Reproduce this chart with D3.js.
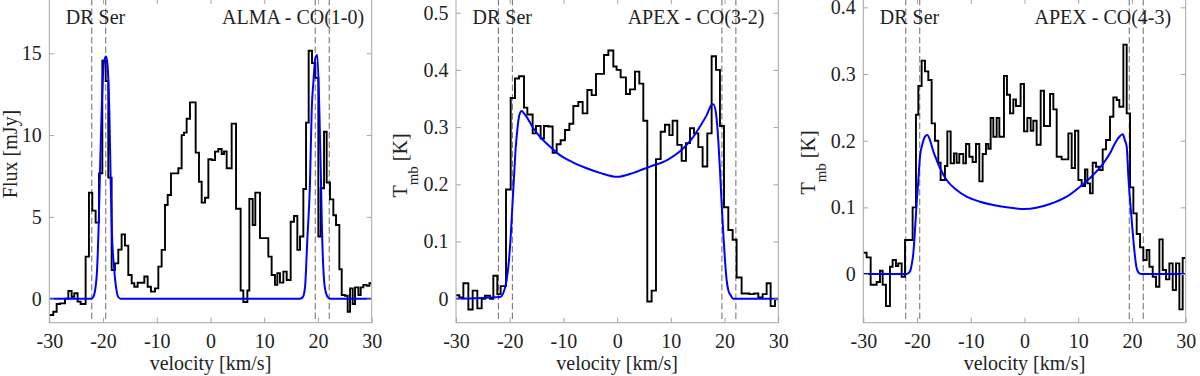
<!DOCTYPE html>
<html>
<head>
<meta charset="utf-8">
<script src="https://cdn.jsdelivr.net/npm/d3@7"></script>
<style>
  body { margin: 0; background: #fff; }
  svg { display: block; }
  text { font-family: "Liberation Serif", "Times New Roman", serif; fill: #222; white-space: pre; }
</style>
</head>
<body>
<script>
const width = 1200;
const height = 376;
const frameColor = '#a6a6a6';

// ---- shared ----
const xTicks = [-30, -20, -10, 0, 10, 20, 30];
const dashVel = [-22.1, -19.5, 19.5, 22.1];

// ---- ALMA CO(1-0) : channel left edges (last = right edge of final channel) ----
const almaVel = [-30.0, -29.26, -28.63, -28.01, -27.08, -26.46, -25.84, -25.35, -24.73, -24.17,
  -23.24, -22.62, -22.0, -21.38, -20.76, -20.13, -19.51, -19.02, -18.40, -17.78,
  -17.16, -16.54, -15.92, -15.30, -14.67, -14.18, -13.56, -12.94, -12.32, -11.70,
  -11.08, -10.33, -9.71, -9.09, -8.47, -7.97, -7.35, -5.99, -5.37, -4.93,
  -4.44, -3.82, -2.76, -2.14, -1.64, -1.02, -0.40, 0.22, 0.84, 1.46,
  2.08, 2.51, 3.01, 3.94, 4.75, 5.61, 6.11, 6.86, 7.23, 7.85,
  8.34, 9.21, 10.76, 11.38, 12.0, 12.44, 12.93, 13.56, 14.18, 14.92,
  15.54, 16.16, 16.66, 17.28, 17.78, 18.27, 18.89, 19.51, 20.07, 20.51,
  21.13, 21.62, 22.24, 22.86, 23.36, 23.98, 24.42, 25.03, 25.53, 25.97,
  26.46, 26.90, 27.52, 27.95, 28.45, 29.07, 29.57, 30.0];
const almaFlux = [-1.0, -0.8, -0.33, -0.29, 0.0, 0.47, 0.12, 0.33, -0.18, -0.33,
  2.57, 6.48, 5.38, 4.65, 7.66, 14.55, 13.3, 7.4, 1.75, 2.16,
  3.0, 3.93, 3.24, 1.45, 0.94, 0.73, 0.97, 0.97, 1.35, 0.73,
  0.43, 0.63, 1.96, 2.98, 5.73, 6.34, 7.66, 7.97, 10.0, 10.15,
  11.0, 12.0, 8.93, 7.15, 5.87, 6.17, 8.52, 8.48, 8.99, 9.15,
  8.84, 9.0, 7.97, 10.7, 5.5, 0.5, -0.2, 0.5, 6.1, 4.5,
  6.48, 3.7, 2.57, 1.45, 0.84, 1.55, 0.98, 1.65, 1.14, 4.7,
  5.05, 2.98, 3.8, 6.7, 10.76, 15.16, 14.4, 13.5, 3.8, 6.75,
  10.2, 7.1, 6.07, 5.1, 4.5, 1.8, 0.22, 0.18, -0.8, 0.63,
  -0.33, 0.69, 0.22, 0.69, 0.84, 0.78, 0.94];
const almaModelVel = [-30, -22.2, -21.81, -21.19, -20.82, -20.57, -20.2, -19.82, -19.45, -19.2,
  -18.83, -18.58, -18.34, -17.96, -17.59, -17.16, -16.72, 16.66, 17.2, 17.59,
  18.02, 18.52, 18.83, 19.14, 19.51, 19.88, 20.26, 20.51, 20.75, 21.13,
  21.5, 21.93, 22.4, 30];
const almaModelFlux = [0, 0, 0.1, 1.35, 4.4, 7.7, 12.1, 14.5, 14.8, 14.4,
  11.5, 7.25, 4.0, 1.96, 0.73, 0.1, 0, 0, 0.1, 0.7,
  3.6, 7.15, 11.5, 13.2, 14.7, 14.9, 11.5, 8.0, 4.2, 1.14,
  0.33, 0.06, 0, 0];
const almaYTicks = [0, 5, 10, 15];

// ---- APEX CO(3-2) ----
const co32Vel = [-30.0, -29.38, -28.63, -27.70, -26.90, -26.03, -25.22, -24.60, -23.67, -23.05,
  -22.31, -21.69, -20.69, -19.82, -19.02, -18.27, -17.34, -16.72, -15.73, -15.11,
  -14.24, -13.62, -12.81, -12.01, -11.26, -10.52, -9.71, -8.90, -8.16, -7.23,
  -6.42, -5.55, -4.75, -3.94, -2.45, -1.64, -0.71, -0.10, 0.65, 1.64,
  2.39, 3.32, 4.13, 4.87, 5.61, 6.42, 7.23, 8.10, 8.90, 9.71,
  10.33, 11.20, 12.01, 12.81, 13.56, 14.30, 15.11, 15.91, 16.78, 17.59,
  18.40, 19.14, 19.89, 20.69, 21.50, 22.24, 23.17, 23.79, 24.60, 25.47,
  26.28, 27.08, 27.83, 28.57, 29.38, 30.0];
const co32T = [0.006, 0.002, 0.027, -0.019, 0.014, -0.017, 0.0, 0.005, 0.0, 0.040,
  0.008, 0.022, 0.191, 0.351, 0.385, 0.389, 0.334, 0.322, 0.289, 0.302,
  0.280, 0.302, 0.301, 0.255, 0.270, 0.277, 0.295, 0.306, 0.337, 0.344,
  0.324, 0.365, 0.356, 0.393, 0.426, 0.434, 0.406, 0.400, 0.387, 0.358,
  0.366, 0.397, 0.376, 0.311, -0.005, 0.014, 0.244, 0.292, 0.304, 0.286,
  0.311, 0.269, 0.241, 0.272, 0.298, 0.289, 0.265, 0.231, 0.289, 0.424,
  0.400, 0.302, 0.160, 0.120, 0.103, 0.037, 0.009, 0.009, 0.008, 0.009,
  0.002, 0.008, 0.027, -0.013, -0.001];
const co32ModelVel = [-30, -21.81, -21.07, -20.57, -20.13, -19.82, -19.51, -19.20, -18.89, -18.52,
  -18.21, -17.78, -17.34, -16.85, -15.61, -14.36, -12.50, -10.64, -8.16, -5.68,
  -3.20, -0.03, 3.01, 6.11, 9.21, 12.32, 14.18, 15.42, 16.66, 17.59,
  17.90, 18.40, 18.83, 19.14, 19.45, 19.76, 20.07, 20.38, 20.69, 21.13,
  21.62, 30];
const co32ModelT = [0, 0.003, 0.013, 0.033, 0.068, 0.108, 0.161, 0.213, 0.263, 0.301,
  0.321, 0.328, 0.324, 0.318, 0.298, 0.283, 0.266, 0.251, 0.238, 0.228,
  0.220, 0.213, 0.220, 0.231, 0.242, 0.263, 0.283, 0.301, 0.321, 0.339,
  0.340, 0.324, 0.277, 0.225, 0.167, 0.114, 0.068, 0.033, 0.015, 0.006,
  0, 0];
const co32YTicks = [0, 0.1, 0.2, 0.3, 0.4, 0.5];

// ---- APEX CO(4-3) ----
const co43Vel = [-30.0, -29.38, -28.63, -27.52, -26.90, -26.40, -25.78, -25.04, -24.54, -23.92,
  -23.49, -22.86, -22.24, -20.82, -20.20, -19.76, -19.14, -18.52, -17.90, -17.28,
  -16.66, -16.04, -15.61, -14.80, -14.36, -13.74, -13.12, -12.63, -12.13, -11.39,
  -10.89, -10.27, -9.65, -9.03, -8.41, -7.79, -7.17, -6.73, -6.30, -5.80,
  -5.18, -4.68, -3.82, -3.26, -2.70, -2.08, -1.59, -0.72, -0.09, 0.53,
  1.15, 1.64, 2.26, 3.01, 3.63, 4.75, 5.37, 5.99, 6.92, 7.54,
  8.16, 8.78, 9.40, 10.02, 10.64, 11.26, 11.70, 12.19, 12.69, 13.31,
  13.93, 14.55, 15.17, 15.91, 16.54, 17.16, 17.65, 18.40, 19.02, 19.64,
  20.26, 20.88, 21.50, 22.12, 22.74, 23.24, 23.86, 24.48, 25.10, 25.72,
  26.34, 26.96, 27.58, 28.20, 28.82, 29.44, 30.0];
const co43T = [0.032, 0.025, -0.016, -0.012, 0.005, -0.016, -0.048, 0.011, 0.021, 0.012,
  0.016, -0.004, 0.051, 0.100, 0.239, 0.282, 0.320, 0.304, 0.291, 0.226,
  0.200, 0.167, 0.141, 0.162, 0.214, 0.166, 0.181, 0.167, 0.180, 0.166,
  0.195, 0.176, 0.168, 0.195, 0.139, 0.180, 0.195, 0.188, 0.234, 0.206,
  0.234, 0.206, 0.297, 0.269, 0.241, 0.262, 0.252, 0.285, 0.214, 0.234,
  0.215, 0.230, 0.194, 0.275, 0.222, 0.270, 0.247, 0.176, 0.172, 0.172,
  0.211, 0.159, 0.215, 0.141, 0.132, 0.157, 0.136, 0.121, 0.167, 0.161,
  0.156, 0.187, 0.201, 0.236, 0.265, 0.261, 0.251, 0.344, 0.241, 0.130,
  0.091, 0.060, 0.040, 0.021, 0.036, 0.011, -0.004, -0.019, 0.052, 0.006,
  -0.008, 0.016, -0.024, 0.016, -0.053, 0.024];
const co43ModelVel = [-30, -21.93, -21.31, -21.0, -20.69, -20.38, -20.07, -19.76, -19.45, -18.96,
  -18.52, -18.09, -17.59, -16.97, -16.35, -15.73, -14.49, -12.63, -10.77, -8.28,
  -5.80, -3.32, 0.0, 4.75, 7.85, 10.33, 12.81, 14.67, 15.91, 16.85,
  17.78, 18.27, 18.71, 19.02, 19.33, 19.64, 19.95, 20.26, 20.57, 20.88,
  21.37, 21.81, 30];
const co43ModelT = [0, 0, 0.004, 0.014, 0.031, 0.066, 0.106, 0.141, 0.176, 0.196,
  0.206, 0.2085, 0.201, 0.184, 0.171, 0.159, 0.141, 0.126, 0.116, 0.1085,
  0.1035, 0.100, 0.0975, 0.105, 0.116, 0.131, 0.149, 0.166, 0.181, 0.196,
  0.207, 0.2095, 0.200, 0.191, 0.146, 0.111, 0.081, 0.051, 0.026, 0.0085,
  0.001, 0, 0];
const co43YTicks = [0, 0.1, 0.2, 0.3, 0.4];

const panels = [
  { left: 49.3, right: 371.7, yDom: [-1.47, 18.32], yTicks: almaYTicks,
    vel: almaVel, val: almaFlux, mVel: almaModelVel, mVal: almaModelFlux,
    title: 'ALMA - CO(1-0)', titlePad: 7.5, ylab: { x: 16.5, y: 154, sub: false, text: 'Flux [mJy]' } },
  { left: 456, right: 778.3, yDom: [-0.042, 0.524], yTicks: co32YTicks,
    vel: co32Vel, val: co32T, mVel: co32ModelVel, mVal: co32ModelT,
    title: 'APEX - CO(3-2)', titlePad: 14, ylab: { x: 407, y: 165.5, sub: true } },
  { left: 863.3, right: 1185.7, yDom: [-0.073, 0.4125], yTicks: co43YTicks,
    vel: co43Vel, val: co43T, mVel: co43ModelVel, mVal: co43ModelT,
    title: 'APEX - CO(4-3)', titlePad: 14.5, ylab: { x: 815, y: 162.5, sub: true } }
];

const axTop = -1;
const axBottom = 322.7;

const svg = d3.select('body')
  .append('svg')
  .attr('width', width)
  .attr('height', height);

panels.forEach((p, idx) => {
  const x = d3.scaleLinear().domain([-30, 30]).range([p.left, p.right]);
  const y = d3.scaleLinear().domain(p.yDom).range([axBottom, axTop]);
  const g = svg.append('g');

  const clipId = 'clip' + idx;
  svg.append('clipPath').attr('id', clipId)
    .append('rect')
    .attr('x', p.left).attr('y', axTop)
    .attr('width', p.right - p.left).attr('height', axBottom - axTop);

  // dashed markers
  g.selectAll('line.dash')
    .data(dashVel)
    .enter()
    .append('line')
    .attr('class', 'dash')
    .attr('x1', d => x(d)).attr('x2', d => x(d))
    .attr('y1', axTop).attr('y2', axBottom)
    .attr('stroke', '#7a7a7a')
    .attr('stroke-width', 1.1)
    .attr('stroke-dasharray', '6.5,3');

  // observed spectrum (stairs)
  const pts = p.val.map((v, i) => [p.vel[i], v]);
  pts.push([p.vel[p.vel.length - 1], p.val[p.val.length - 1]]);
  const stair = d3.line()
    .x(d => x(d[0]))
    .y(d => y(d[1]))
    .curve(d3.curveStepAfter);
  g.append('path')
    .datum(pts)
    .attr('clip-path', `url(#${clipId})`)
    .attr('d', stair)
    .attr('fill', 'none')
    .attr('stroke', '#000')
    .attr('stroke-width', 1.9);

  // model
  const model = d3.line()
    .x((d, i) => x(p.mVel[i]))
    .y(d => y(d))
    .curve(d3.curveMonotoneX);
  g.append('path')
    .datum(p.mVal)
    .attr('clip-path', `url(#${clipId})`)
    .attr('d', model)
    .attr('fill', 'none')
    .attr('stroke', '#0000ff')
    .attr('stroke-width', 2);

  // axes, ticks inward on all four sides
  const xAxis = g.append('g')
    .attr('transform', `translate(0,${axBottom})`)
    .call(d3.axisBottom(x).tickValues(xTicks).tickFormat(d => String(d))
      .tickSizeInner(-5).tickSizeOuter(0).tickPadding(11));
  const xAxisTop = g.append('g')
    .attr('transform', `translate(0,${axTop})`)
    .call(d3.axisTop(x).tickValues(xTicks.slice(1, -1)).tickFormat('')
      .tickSizeInner(-5).tickSizeOuter(0));
  const yAxis = g.append('g')
    .attr('transform', `translate(${p.left},0)`)
    .call(d3.axisLeft(y).tickValues(p.yTicks).tickFormat(d => String(d))
      .tickSizeInner(-5).tickSizeOuter(0).tickPadding(7.5));
  const yAxisR = g.append('g')
    .attr('transform', `translate(${p.right},0)`)
    .call(d3.axisRight(y).tickValues(p.yTicks).tickFormat('')
      .tickSizeInner(-5).tickSizeOuter(0));

  [xAxis, xAxisTop, yAxis, yAxisR].forEach(a => {
    a.select('.domain').remove();
    a.selectAll('line').attr('stroke', frameColor);
    a.selectAll('text')
      .attr('fill', '#222')
      .style('font-family', '"Liberation Serif", "Times New Roman", serif')
      .style('font-size', '20px');
  });

  // box
  g.append('rect')
    .attr('x', p.left).attr('y', axTop)
    .attr('width', p.right - p.left).attr('height', axBottom - axTop)
    .attr('fill', 'none')
    .attr('stroke', frameColor)
    .attr('stroke-width', 1);

  // in-plot labels
  g.append('text')
    .text('DR Ser')
    .attr('x', p.left + 16.5)
    .attr('y', 23.5)
    .style('font-size', '20px');
  g.append('text')
    .text(p.title)
    .attr('x', p.right - p.titlePad)
    .attr('y', 23.5)
    .attr('text-anchor', 'end')
    .style('font-size', '20px');

  // x label
  g.append('text')
    .text('velocity [km/s]')
    .attr('x', x(0))
    .attr('y', 369.5)
    .attr('text-anchor', 'middle')
    .style('font-size', '20px');

  // y label
  const yl = g.append('text')
    .attr('transform', `translate(${p.ylab.x},${p.ylab.y}) rotate(-90)`)
    .attr('text-anchor', 'middle')
    .style('font-size', '20px');
  if (p.ylab.sub) {
    yl.append('tspan').text('T');
    yl.append('tspan').text('mb').attr('dy', 11).style('font-size', '15px');
    yl.append('tspan').text(' [K]').attr('dy', -11);
  } else {
    yl.text(p.ylab.text);
  }
});
</script>
</body>
</html>
